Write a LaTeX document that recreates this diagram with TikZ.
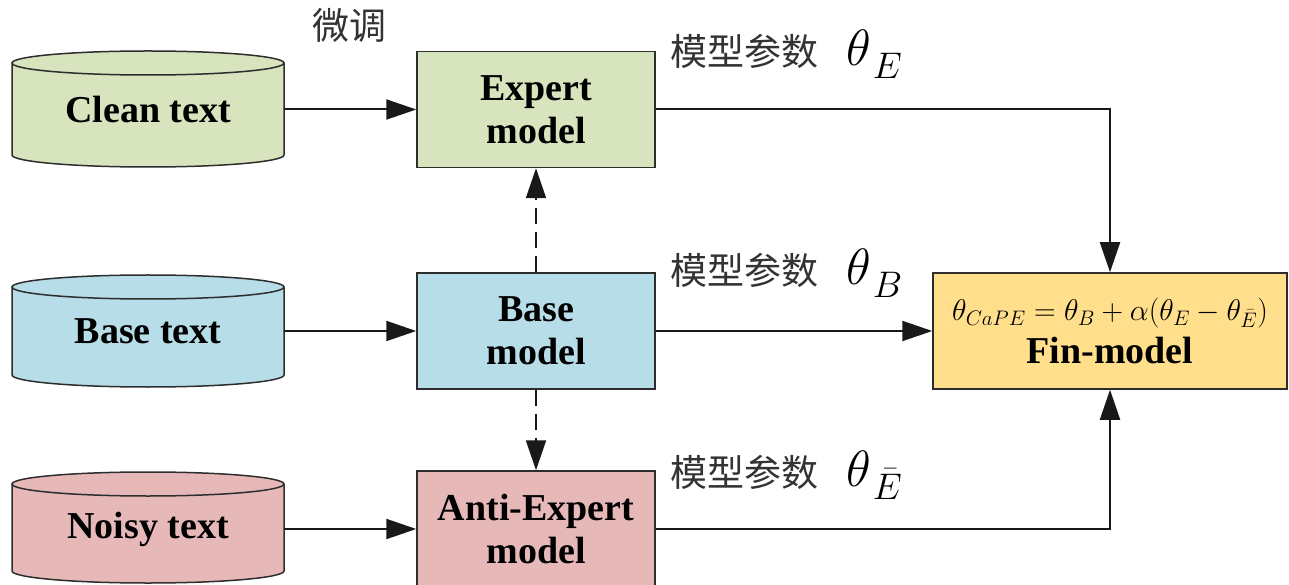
\RequirePackage{fix-cm}
\documentclass[tikz,border=0pt]{standalone}
\usepackage{fontspec}
\setmainfont{Liberation Serif}
\newfontfamily\cjk{Noto Sans CJK SC}
\usetikzlibrary{arrows.meta}

\definecolor{cleanfill}{RGB}{215,228,189}
\definecolor{basefill}{RGB}{183,221,232}
\definecolor{noisyfill}{RGB}{230,185,184}
\definecolor{finfill}{RGB}{255,222,140}
\definecolor{edge}{RGB}{45,45,45}

% drum (database) outline: centre x, top ellipse y, bottom ellipse y, fill, half width
\newcommand\drumshape[5]{%
  \fill[#4] (#1-#5,#3) -- (#1-#5,#2) -- (#1+#5,#2) -- (#1+#5,#3)
    arc[start angle=0,end angle=-180,x radius=#5,y radius=12] -- cycle;
  \filldraw[fill=#4,draw=edge,line width=1.5pt] (#1,#2) ellipse [x radius=#5,y radius=12];
  \draw[edge,line width=1.5pt] (#1-#5,#2) -- (#1-#5,#3)
    arc[start angle=180,end angle=360,x radius=#5,y radius=12] -- (#1+#5,#2);
}
% large parameter symbol with a lowered subscript
\newcommand\paramsym[1]{\color{black}{\fontsize{51}{51}\selectfont$\theta$}\kern2pt\raisebox{-13pt}{\fontsize{37}{37}\selectfont$#1$}}

\begin{document}
\begin{tikzpicture}[x=1pt,y=1pt,
  every node/.style={inner sep=0pt},
  lbl/.style={font=\fontsize{38}{43}\selectfont\bfseries, align=center},
  drumtext/.style={lbl, minimum width=272pt, minimum height=80pt},
  model/.style={lbl, draw=edge, line width=1.5pt, minimum width=238pt, minimum height=116pt},
  cjklbl/.style={anchor=base west, font=\cjk\fontsize{37}{37}\selectfont, text=black!80},
  conn/.style={draw=black!90, line width=2pt, -{Triangle[length=30pt,width=20pt]}},
  dashconn/.style={conn, dash pattern=on 16pt off 8pt},
]
\useasboundingbox (0,0) rectangle (1289,584);

% data sources
\drumshape{148}{521}{429}{cleanfill}{136}
\node[drumtext] (clean) at (148,474.5) {Clean text};
\drumshape{148}{297}{209}{basefill}{136}
\node[drumtext] (basetext) at (148,253) {Base text};
\drumshape{148}{100}{13}{noisyfill}{136}
\node[drumtext] (noisy) at (148,55) {Noisy text};

% models
\node[model, fill=cleanfill] (expert) at (536,474.5) {Expert\\model};
\node[model, fill=basefill] (base) at (536,253) {Base\\model};
\node[model, fill=noisyfill] (anti) at (536,55) {Anti-Expert\\model};
\node[model, fill=finfill, minimum width=354pt] (fin) at (1110,253)
  {{\fontsize{30}{30}\selectfont\mdseries$\theta_{CaPE}=\theta_B+\alpha(\theta_E-\theta_{\bar{E}})$}\\Fin-model};

% labels
\node[cjklbl] (tune) at (312,544) {微调};
\node[cjklbl] (pe) at (670,518) {模型参数\hspace{28pt}\paramsym{E}};
\node[cjklbl] (pb) at (670,299) {模型参数\hspace{28pt}\paramsym{B}};
\node[cjklbl] (pa) at (670,98) {模型参数\hspace{28pt}\paramsym{\bar{E}}};

% connectors
\draw[conn] (clean) -- (expert);
\draw[conn] (basetext) -- (base);
\draw[conn] (noisy) -- (anti);
\draw[dashconn] (base.north) -- (expert.south);
\draw[dashconn] (base.south) -- (anti.north);
\draw[conn] (expert.east) -| (fin.north);
\draw[conn] (base) -- (fin);
\draw[conn] (anti.east) -| (fin.south);
\end{tikzpicture}
\end{document}
